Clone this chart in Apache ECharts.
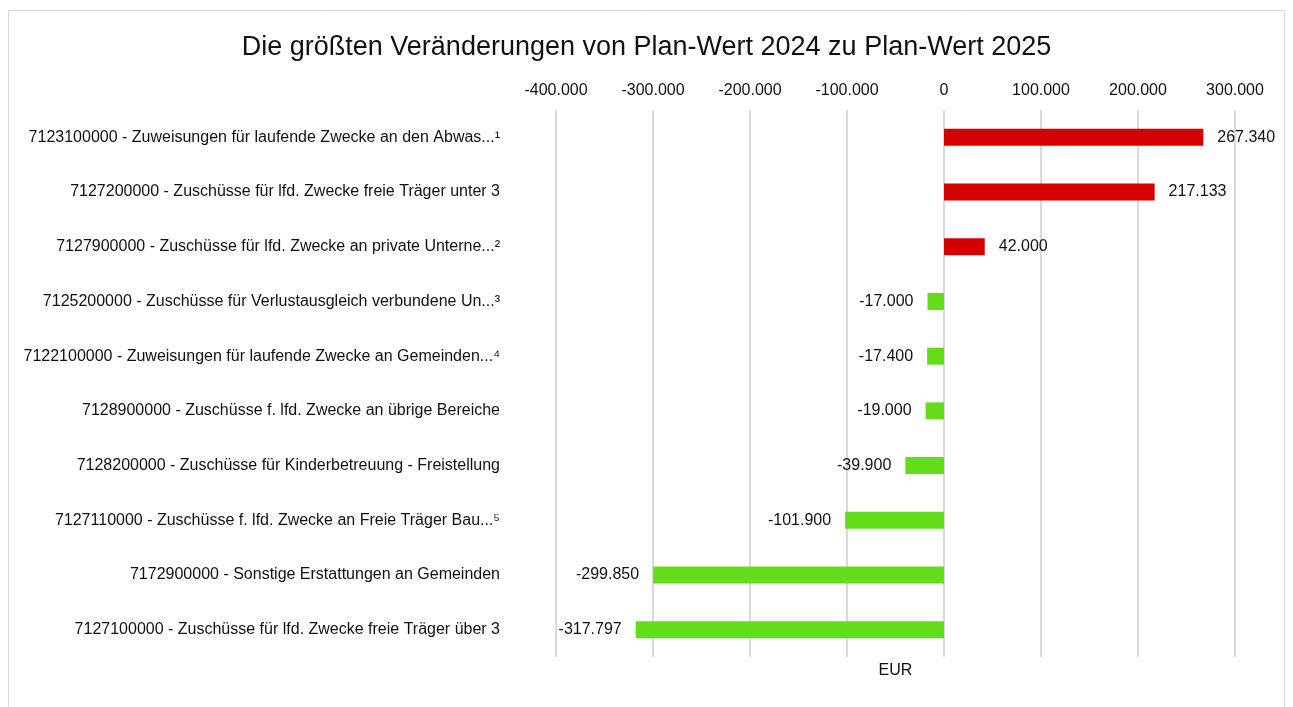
<!DOCTYPE html>
<html>
<head>
<meta charset="utf-8">
<script src="https://cdn.jsdelivr.net/npm/echarts@6/dist/echarts.min.js"></script>
<style>
  html, body { margin: 0; padding: 0; background: #fff; }
  #chart { width: 1293px; height: 707px; }
</style>
</head>
<body>
<div id="chart"></div>
<script>
const categories = [
  '7123100000 - Zuweisungen für laufende Zwecke an den Abwas...¹',
  '7127200000 - Zuschüsse für lfd. Zwecke freie Träger unter 3',
  '7127900000 - Zuschüsse für lfd. Zwecke an private Unterne...²',
  '7125200000 - Zuschüsse für Verlustausgleich verbundene Un...³',
  '7122100000 - Zuweisungen für laufende Zwecke an Gemeinden...⁴',
  '7128900000 - Zuschüsse f. lfd. Zwecke an übrige Bereiche',
  '7128200000 - Zuschüsse für Kinderbetreuung - Freistellung',
  '7127110000 - Zuschüsse f. lfd. Zwecke an Freie Träger Bau...⁵',
  '7172900000 - Sonstige Erstattungen an Gemeinden',
  '7127100000 - Zuschüsse für lfd. Zwecke freie Träger über 3'
]
const changes = [267340, 217133, 42000, -17000, -17400, -19000, -39900, -101900, -299850, -317797]
const axisMin = -400000
const axisMax = 300000
const axisStep = 100000

const posColor = '#d50000'
const negColor = '#63dd19'
const font = 'Liberation Sans, Arial, sans-serif'
const txt = '#111'

// deutsches Zahlenformat: 1.000er Trennzeichen
function fmt (v) {
  const s = Math.abs(Math.round(v)).toString().replace(/\B(?=(\d{3})+(?!\d))/g, '.')
  return (v < 0 ? '-' : '') + s
}

const barData = changes.map(function (v) {
  return {
    value: v,
    itemStyle: { color: v >= 0 ? posColor : negColor },
    label: { position: v >= 0 ? 'right' : 'left' }
  }
})

const chart = echarts.init(document.getElementById('chart'))
chart.setOption({
  animation: false,
  title: {
    text: 'Die größten Veränderungen von Plan-Wert 2024 zu Plan-Wert 2025',
    left: 'center',
    top: 29,
    textStyle: { fontFamily: font, fontSize: 27, fontWeight: 'normal', color: txt }
  },
  graphic: [{
    type: 'rect',
    shape: { x: 8.5, y: 10.5, width: 1276, height: 720 },
    style: { fill: 'none', stroke: '#d9d9d9', lineWidth: 1 },
    silent: true
  }],
  grid: { left: 556, right: 58, top: 110, bottom: 50 },
  xAxis: [{
    type: 'value',
    position: 'top',
    min: axisMin,
    max: axisMax,
    interval: axisStep,
    axisLine: { show: false },
    axisTick: { show: false },
    axisLabel: {
      margin: 11,
      fontFamily: font,
      fontSize: 16,
      color: txt,
      formatter: fmt
    },
    splitLine: { lineStyle: { color: '#d9d9d9', width: 2 } }
  }, {
    type: 'value',
    position: 'bottom',
    min: axisMin,
    max: axisMax,
    interval: axisStep,
    name: 'EUR',
    nameLocation: 'middle',
    nameGap: 6,
    nameTextStyle: { fontFamily: font, fontSize: 16, color: txt, verticalAlign: 'top' },
    axisLine: { show: false },
    axisTick: { show: false },
    axisLabel: { show: false },
    splitLine: { show: false }
  }],
  yAxis: {
    type: 'category',
    inverse: true,
    data: categories,
    axisLine: { show: false },
    axisTick: { show: false },
    axisLabel: { margin: 56, fontFamily: font, fontSize: 16, color: txt }
  },
  series: [{
    type: 'bar',
    xAxisIndex: 0,
    barWidth: 17,
    data: barData,
    label: {
      show: true,
      distance: 14,
      fontFamily: font,
      fontSize: 16,
      color: txt,
      formatter: function (p) { return fmt(p.value) }
    }
  }]
})
</script>
</body>
</html>
